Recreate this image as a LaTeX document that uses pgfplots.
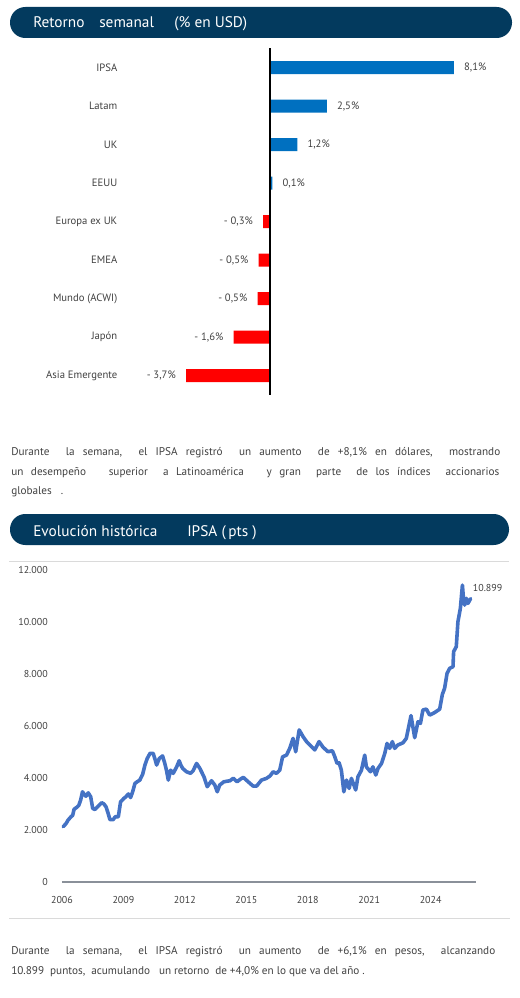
\documentclass[border=0pt]{standalone}
\usepackage{pgfplots}
\pgfplotsset{compat=1.18}
\usepackage{fontspec}
\setmainfont{PT Sans}
\definecolor{navy}{HTML}{033A5E}
\definecolor{barblue}{HTML}{0070C0}
\definecolor{barred}{HTML}{FF0000}
\definecolor{txt}{HTML}{404040}
\definecolor{lineblue}{HTML}{4472C4}
\definecolor{framec}{HTML}{DADADA}
\definecolor{axisc}{HTML}{8A9099}
\begin{document}
\begin{tikzpicture}
\begin{scope}[x=0.75pt,y=-0.75pt]
\useasboundingbox (0,0) rectangle (520,998);
% ---------- header 1
\fill[navy, rounded corners=11.5pt] (10,7) rectangle (512,38);
\begin{scope}[every node/.style={white, anchor=base west, inner sep=0pt, font=\fontsize{11.5}{13}\selectfont}]
\node at (33,28) {Retorno};
\node at (99,28) {semanal};
\node at (174,28) {(\% en USD)};
\end{scope}
% ---------- paragraph 1
\begin{scope}[every node/.style={text=txt, anchor=base west, inner sep=0pt, font=\fontsize{8.4}{10}\selectfont}]
\node at (11,455) {\makebox[366.75pt][s]{Durante\ \ la semana,\ \ el IPSA registró\ \ un aumento\ \ de +8,1\% en dólares,\ \ mostrando}};
\node at (11,475) {\makebox[366pt][s]{un desempeño\ \ \ superior\ \ a Latinoamérica\ \ \ y gran\ \ parte\ \ de los índices\ \ accionarios}};
\node at (11,494) {globales\ \ \ .};
\end{scope}
% ---------- header 2
\fill[navy, rounded corners=11.5pt] (10,514) rectangle (509,545);
\begin{scope}[every node/.style={white, anchor=base west, inner sep=0pt, font=\fontsize{11.5}{13}\selectfont}]
\node at (33,536.5) {Evolución histórica};
\node at (187,536.5) {IPSA (};
\node at (228,536.5) {pts )};
\end{scope}
% ---------- frame lines
\draw[framec, line width=0.75pt] (9,561) -- (509,561);
\draw[framec, line width=0.75pt] (9,918) -- (510,918);
% ---------- paragraph 2
\begin{scope}[every node/.style={text=txt, anchor=base west, inner sep=0pt, font=\fontsize{8.4}{10}\selectfont}]
\node at (11,954) {\makebox[363pt][s]{Durante\ \ la semana,\ \ el IPSA registró\ \ un aumento\ \ de +6,1\% en pesos,\ \ alcanzando}};
\node at (11,974) {10.899\ \ puntos,\ \ acumulando\ \ \ un retorno\ \ de +4,0\% en lo que va del año .};
\end{scope}
\end{scope}
% ---------- bar chart
\begin{axis}[at={(90.15pt,-36.19pt)}, anchor=north west, scale only axis,
  width=284.3pt, height=259.9pt,
  xmin=-6.6, xmax=10.1, ymin=-0.5, ymax=8.5, y dir=reverse,
  xbar, bar width=9.75pt, bar shift=0pt,
  axis line style={draw=none}, xtick=\empty,
  ytick={0,1,2,3,4,5,6,7,8},
  yticklabels={IPSA,Latam,UK,EEUU,Europa ex UK,EMEA,Mundo (ACWI),Japón,Asia Emergente},
  major tick length=0pt,
  yticklabel style={font=\fontsize{8}{10}\selectfont, text=txt, inner sep=0pt, xshift=-2pt},
  point meta=explicit symbolic,
  clip=false]
\addplot[fill=barblue, draw=none, nodes near coords,
  every node near coord/.append style={font=\fontsize{8}{10}\selectfont, text=txt, inner sep=0pt, anchor=west, xshift=7.5pt}]
  coordinates {(8.1,0) [8,1\%] (2.5,1) [2,5\%] (1.2,2) [1,2\%] (0.1,3) [0,1\%]};
\addplot[fill=barred, draw=none, nodes near coords,
  every node near coord/.append style={font=\fontsize{8}{10}\selectfont, text=txt, inner sep=0pt, anchor=east, xshift=-7.5pt}]
  coordinates {(-0.3,4) [- 0,3\%] (-0.5,5) [- 0,5\%] (-0.55,6) [- 0,5\%] (-1.6,7) [- 1,6\%] (-3.7,8) [- 3,7\%]};
\draw[black, line width=1pt] (axis cs:0,-0.5) -- (axis cs:0,8.5);
\end{axis}
% ---------- line chart
\begin{axis}[at={(46.5pt,-661.5pt)}, anchor=south west, scale only axis,
  width=310.3pt, height=234pt,
  xmin=2006, xmax=2026.2, ymin=0, ymax=12000,
  scaled y ticks=false, scaled x ticks=false,
  axis line style={draw=none}, major tick length=0pt,
  xtick={2006,2009,2012,2015,2018,2021,2024},
  xticklabels={2006,2009,2012,2015,2018,2021,2024},
  ytick={0,2000,4000,6000,8000,10000,12000},
  yticklabels={0,2.000,4.000,6.000,8.000,10.000,12.000},
  ticklabel style={font=\fontsize{7.5}{9}\selectfont, text=txt, inner sep=0pt},
  yticklabel style={xshift=-10.5pt},
  xticklabel style={yshift=-10.5pt},
  clip=false]
\draw[axisc, line width=0.9pt] (axis cs:2006,0) -- (axis cs:2026.2,0);
\addplot[lineblue, line width=2.7pt, line join=round, line cap=round] coordinates {
(2006.06,2127) (2006.2,2250) (2006.3,2385) (2006.45,2520) (2006.52,2560) (2006.59,2800)
(2006.72,2870) (2006.82,2950) (2006.91,3150) (2007.0,3470) (2007.1,3350) (2007.17,3300)
(2007.28,3430) (2007.4,3280) (2007.5,2830) (2007.61,2790) (2007.75,2900) (2007.94,3050)
(2008.05,3000) (2008.15,2890) (2008.25,2650) (2008.34,2400) (2008.5,2400) (2008.6,2510)
(2008.75,2510) (2008.86,3085) (2009.02,3215) (2009.12,3280) (2009.24,3385) (2009.35,3250)
(2009.45,3470) (2009.56,3790) (2009.67,3855) (2009.8,3920) (2009.94,4150) (2010.05,4500)
(2010.16,4750) (2010.3,4950) (2010.45,4950) (2010.55,4700) (2010.62,4500) (2010.75,4750)
(2010.91,4850) (2011.02,4560) (2011.1,4300) (2011.19,3920) (2011.3,4300) (2011.43,4180)
(2011.6,4430) (2011.72,4665) (2011.8,4500) (2011.89,4370) (2012.08,4240) (2012.28,4180)
(2012.4,4280) (2012.57,4560) (2012.73,4370) (2012.93,4050) (2013.09,3665) (2013.3,3895)
(2013.46,3730) (2013.58,3470) (2013.7,3730) (2013.9,3855) (2014.2,3895) (2014.36,3990)
(2014.55,3855) (2014.7,3950) (2014.85,4025) (2015.09,3855) (2015.33,3690) (2015.5,3690)
(2015.74,3920) (2015.98,3985) (2016.15,4075) (2016.31,4240) (2016.47,4180) (2016.63,4300)
(2016.77,4815) (2016.96,4880) (2017.12,5140) (2017.28,5525) (2017.41,5010) (2017.58,5850)
(2017.77,5590) (2017.94,5400) (2018.1,5270) (2018.34,5080) (2018.55,5400) (2018.75,5180)
(2018.99,5010) (2019.2,5050) (2019.32,4815) (2019.43,4560) (2019.53,4585) (2019.64,4300)
(2019.76,3470) (2019.89,3920) (2020.02,3600) (2020.13,3985) (2020.34,3540) (2020.45,4050)
(2020.62,4300) (2020.78,4880) (2020.86,4430) (2021.06,4240) (2021.18,4430) (2021.32,4115)
(2021.43,4370) (2021.6,4560) (2021.76,4950) (2021.87,5330) (2022.0,5140) (2022.13,5400)
(2022.24,5140) (2022.4,5270) (2022.65,5355) (2022.81,5525) (2023.04,6400) (2023.22,5550)
(2023.38,6165) (2023.5,6100) (2023.62,6615) (2023.79,6650) (2023.95,6420) (2024.2,6520)
(2024.44,6650) (2024.57,7215) (2024.68,7450) (2024.8,8025) (2024.93,8220) (2025.09,8280)
(2025.12,8860) (2025.25,9050) (2025.33,10010) (2025.45,10525) (2025.55,11420) (2025.6,10900)
(2025.66,10650) (2025.74,10910) (2025.82,10715) (2025.95,10899)
};
\node[anchor=west, inner sep=0pt, text=txt, font=\fontsize{7.5}{9}\selectfont, yshift=8.25pt, xshift=1.5pt] at (axis cs:2025.95,10899) {10.899};
\end{axis}
\end{tikzpicture}
\end{document}
